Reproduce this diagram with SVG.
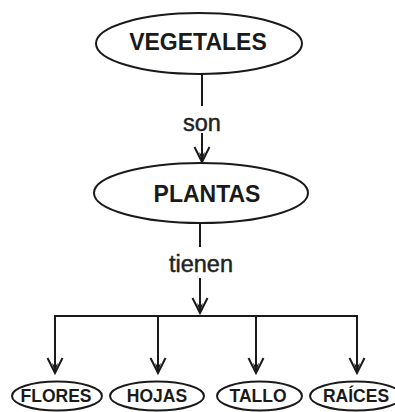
<svg xmlns="http://www.w3.org/2000/svg" width="395" height="412" viewBox="0 0 395 412">
<defs>
<style>
.node ellipse{fill:#fff;stroke:#1a1a1a;stroke-width:2}
.lbl{font-family:"Liberation Sans",Arial,sans-serif;font-weight:bold;fill:#1a1a1a;text-anchor:middle}
.big{font-size:23px}
.small{font-size:17.5px}
.edge{font-family:"Liberation Sans",Arial,sans-serif;font-size:23.5px;fill:#222;stroke:#222;stroke-width:0.45;text-anchor:middle}
#connectors line{stroke:#1a1a1a;stroke-width:2;fill:none}
</style>
<marker id="arr" viewBox="-16 -9 18 18" refX="0" refY="0" markerWidth="18" markerHeight="18" markerUnits="userSpaceOnUse" orient="auto">
<path d="M-15,-7.5 L0,0 L-15,7.5" fill="none" stroke="#1a1a1a" stroke-width="2"/>
<path d="M-10,-3 L0,0 L-10,3 L-7,0 z" fill="#1a1a1a"/>
</marker>
</defs>
<rect width="395" height="412" fill="#fff"/>
<g id="connectors">
<line x1="202" y1="74" x2="202" y2="106"/>
<line x1="202" y1="133" x2="202" y2="162" marker-end="url(#arr)"/>
<line x1="200" y1="223" x2="200" y2="247"/>
<line x1="200" y1="278" x2="200" y2="313" marker-end="url(#arr)"/>
<line x1="54" y1="316" x2="358" y2="316"/>
<line x1="55" y1="315" x2="55" y2="373" marker-end="url(#arr)"/>
<line x1="158" y1="315" x2="158" y2="373" marker-end="url(#arr)"/>
<line x1="256" y1="315" x2="256" y2="373" marker-end="url(#arr)"/>
<line x1="357" y1="315" x2="357" y2="373" marker-end="url(#arr)"/>
<text class="edge" x="202" y="131">son</text>
<text class="edge" x="201" y="272">tienen</text>
</g>
<g id="vegetales" class="node">
<ellipse cx="199" cy="43.5" rx="103" ry="30.5"/>
<text class="lbl big" x="198" y="50">VEGETALES</text>
</g>
<g id="plantas" class="node">
<ellipse cx="201" cy="193" rx="107" ry="30"/>
<text class="lbl big" x="207" y="202">PLANTAS</text>
</g>
<g id="flores" class="node">
<ellipse cx="57" cy="396" rx="45" ry="14.5"/>
<text class="lbl small" x="56" y="402">FLORES</text>
</g>
<g id="hojas" class="node">
<ellipse cx="157" cy="396" rx="47" ry="14.5"/>
<text class="lbl small" x="157" y="402">HOJAS</text>
</g>
<g id="tallo" class="node">
<ellipse cx="259.5" cy="396" rx="42.5" ry="14.5"/>
<text class="lbl small" x="258" y="402">TALLO</text>
</g>
<g id="raices" class="node">
<ellipse cx="356" cy="396" rx="46" ry="14.5"/>
<text class="lbl small" x="356" y="402">RAÍCES</text>
</g>
</svg>
